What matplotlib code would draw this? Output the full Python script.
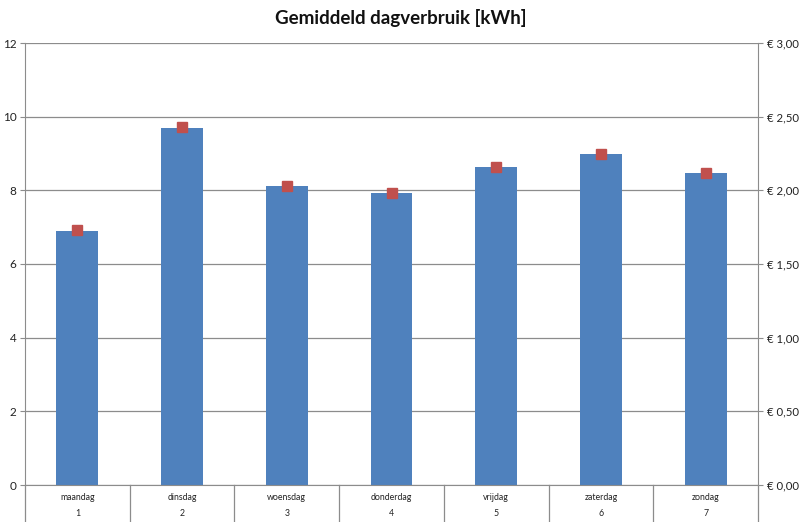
import numpy as np
import matplotlib
matplotlib.use("Agg")
import matplotlib.pyplot as plt
from matplotlib.transforms import blended_transform_factory
from matplotlib.ticker import FuncFormatter

days = ["maandag", "dinsdag", "woensdag", "donderdag", "vrijdag", "zaterdag", "zondag"]
day_numbers = ["1", "2", "3", "4", "5", "6", "7"]
kwh = [6.90, 9.70, 8.11, 7.92, 8.63, 8.99, 8.47]
euro = [1.73, 2.43, 2.03, 1.98, 2.16, 2.25, 2.12]

plt.rcParams["font.family"] = ["Lato", "DejaVu Sans"]
grey = "#8c8c8c"

fig = plt.figure(figsize=(8, 5.22), dpi=100)
ax = fig.add_axes([25 / 800, 37 / 522, 733 / 800, 442 / 522])
x = np.arange(len(days))

ax.bar(x, kwh, width=0.4, color="#4F81BD", zorder=2)
ax.set_xlim(-0.5, len(days) - 0.5)
ax.set_ylim(0, 12)
ax.set_yticks(np.arange(0, 13, 2))
ax.yaxis.grid(True, color=grey, linewidth=0.9, zorder=0)
ax.set_axisbelow(True)
ax.set_xticks([])
for s in ["top", "right"]:
    ax.spines[s].set_visible(False)
for s in ["left", "bottom"]:
    ax.spines[s].set_color(grey)
ax.tick_params(axis="y", colors=grey, labelcolor="#222222", labelsize=8.5, length=3.6, pad=2.5)

ax2 = ax.twinx()
ax2.plot(x, euro, linestyle="none", marker="s", markersize=6.5, color="#C0504D", zorder=3)
ax2.set_ylim(0, 3)
ax2.set_yticks(np.arange(0, 3.01, 0.5))
ax2.yaxis.set_major_formatter(FuncFormatter(lambda v, p: "€ " + f"{v:.2f}".replace(".", ",")))
for s in ["top", "left", "bottom"]:
    ax2.spines[s].set_visible(False)
ax2.spines["right"].set_color(grey)
ax2.tick_params(axis="y", colors=grey, labelcolor="#222222", labelsize=8.2, length=3.6, pad=3)

# category separators and two-level labels
trans = blended_transform_factory(ax.transData, ax.transAxes)
drop = 37 / 442
for b in np.arange(-0.5, len(days), 1.0):
    ax.plot([b, b], [0, -drop], color=grey, linewidth=0.9, transform=trans, clip_on=False)
for xi, d, n in zip(x, days, day_numbers):
    ax.text(xi, -13 / 442, d, transform=trans, ha="center", va="center", fontsize=6.3, color="#222222")
    ax.text(xi, -28.5 / 442, n, transform=trans, ha="center", va="center", fontsize=6.3, color="#222222")

fig.text(401 / 800, 1 - 18 / 522, "Gemiddeld dagverbruik [kWh]", ha="center", va="center",
         fontsize=13.5, fontweight="bold", color="#111111")

fig.savefig("out.png", dpi=100)
